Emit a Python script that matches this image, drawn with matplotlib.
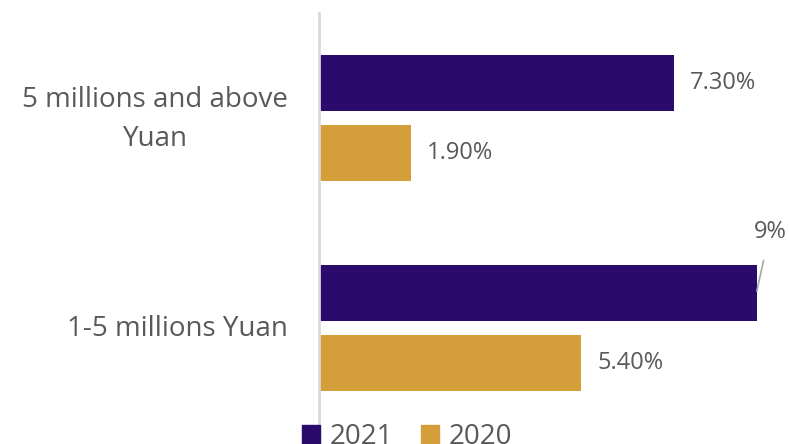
import matplotlib.pyplot as plt
from matplotlib.patches import Patch
import numpy as np

categories = ["5 millions and above\nYuan", "1-5 millions Yuan"]
series_names = ["2021", "2020"]
values_2021 = [7.3, 9.0]
values_2020 = [1.9, 5.4]
labels_2021 = ["7.30%", "9%"]
labels_2020 = ["1.90%", "5.40%"]

purple = "#2a0b6b"
gold = "#d49f3a"
text_gray = "#595959"

plt.rcParams["font.family"] = ["Open Sans", "DejaVu Sans"]

fig = plt.figure(figsize=(7.89, 4.44), dpi=100)
ax = fig.add_axes([318.5 / 789, 4 / 444, 470.5 / 789, 427 / 444])

y = np.array([1.0, 0.0])
h = 56 / 210
off = 35 / 210

ax.barh(y + off, values_2021, height=h, color=purple)
ax.barh(y - off, values_2020, height=h, color=gold)

ax.set_xlim(0, 470.5 / 48.7)
ax.set_ylim(-(444 - 4 - 328) / 210, 1 + (118 - 13) / 210)

# value labels
for yy, v, lab in zip(y + off, values_2021, labels_2021):
    if lab == "9%":
        ax.annotate(lab, xy=(v, yy + 0.01), xytext=(9.27, yy + 0.29),
                    ha="center", va="center", fontsize=17, color=text_gray,
                    arrowprops=dict(arrowstyle="-", color="#a6a6a6", lw=1.2,
                                    shrinkA=10, shrinkB=0))
    else:
        ax.text(v + 0.33, yy, lab, ha="left", va="center", fontsize=17, color=text_gray)
for yy, v, lab in zip(y - off, values_2020, labels_2020):
    ax.text(v + 0.33, yy, lab, ha="left", va="center", fontsize=17, color=text_gray)

# category labels
for yy, cat in zip(y, categories):
    ax.annotate(cat, xy=(0, yy), xycoords=("axes fraction", "data"),
                xytext=(-22, -1), textcoords="offset points",
                ha="right", va="center", multialignment="center", linespacing=1.5,
                fontsize=20, color=text_gray)

ax.set_yticks([])
ax.set_xticks([])

for s in ["top", "right", "bottom"]:
    ax.spines[s].set_visible(False)
ax.spines["left"].set_color("#d9d9d9")
ax.spines["left"].set_linewidth(2)

handles = [Patch(color=purple), Patch(color=gold)]
fig.legend(handles, series_names, loc="center left", bbox_to_anchor=(277 / 789, 1 - 437 / 444),
           ncol=2, frameon=False, fontsize=20, labelcolor=text_gray,
           handlelength=0.65, handleheight=0.65, handletextpad=0.35, columnspacing=1.0)

fig.savefig("out.png", dpi=100)
